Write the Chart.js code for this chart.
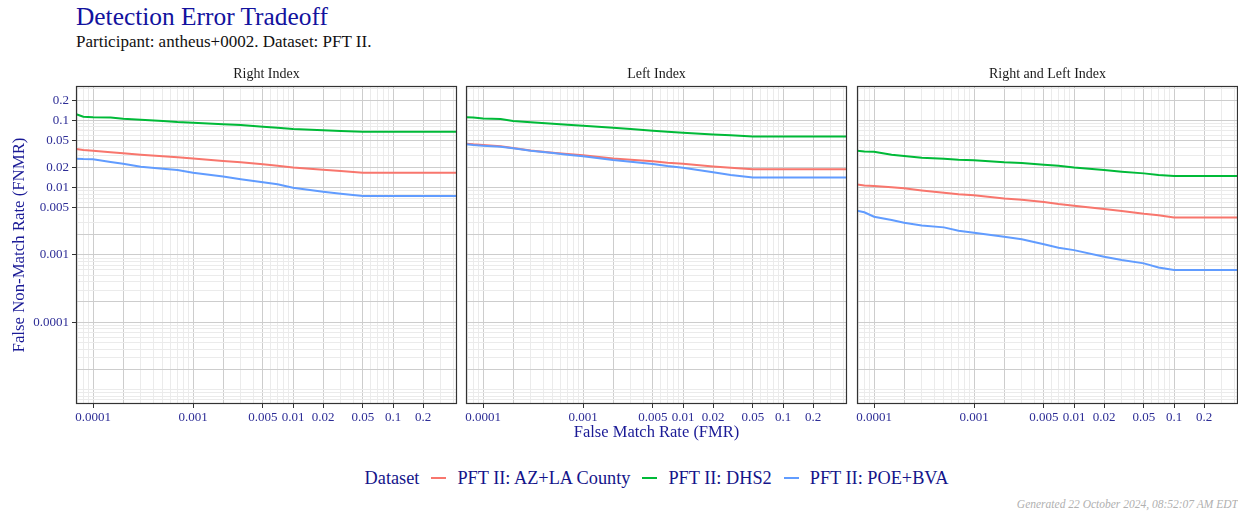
<!DOCTYPE html>
<html>
<head>
<meta charset="utf-8">
<script src="https://cdn.jsdelivr.net/npm/chart.js@4.4.0/dist/chart.umd.min.js"></script>
<style>
  body { margin: 0; background: #fff; font-family: 'Liberation Serif', serif; }
  #wrap { position: relative; width: 1238px; height: 514px; overflow: hidden; }
  .panel { position: absolute; top: 62px; height: 384px; }
  #title { position: absolute; left: 76px; top: 2px; font-size: 25.4px; color: #12129e; white-space: nowrap; }
  #subtitle { position: absolute; left: 76px; top: 32px; font-size: 17px; color: #111; white-space: nowrap; }
  #legend { position: absolute; left: 0; width: 1313px; top: 466px; height: 24px; display: flex; justify-content: center; align-items: center; font-size: 18.3px; color: #14148a; white-space: nowrap; }
  #legend .key { display: inline-block; width: 15px; height: 2px; margin: 0 11px 0 12px; }
  #footer { position: absolute; right: 0; top: 498px; font-size: 11.5px; font-style: italic; color: #b0b0b0; white-space: nowrap; }
</style>
</head>
<body>
<div id="wrap">
  <div id="title">Detection Error Tradeoff</div>
  <div id="subtitle">Participant: antheus+0002. Dataset: PFT II.</div>
  <div class="panel" style="left:0;width:462px"><canvas id="p0"></canvas></div>
  <div class="panel" style="left:462px;width:390px"><canvas id="p1"></canvas></div>
  <div class="panel" style="left:852px;width:386px"><canvas id="p2"></canvas></div>
  <div id="legend"></div>
  <div id="footer">Generated 22 October 2024, 08:52:07 AM EDT</div>
</div>
<script>
// FMR sample points shared by all curves
const fmr = [6.8e-5, 8e-5, 1e-4, 1.5e-4, 2e-4, 3e-4, 5e-4, 7e-4, 1e-3, 2e-3, 3e-3, 5e-3, 7e-3, 0.01, 0.02, 0.03, 0.05, 0.07, 0.1, 0.5];

const panelNames = ['Right Index', 'Left Index', 'Right and Left Index'];
const seriesNames = ['PFT II: AZ+LA County', 'PFT II: DHS2', 'PFT II: POE+BVA'];
const seriesColors = ['#F8766D', '#00BA38', '#619CFF'];

// FNMR
const rightAZ   = [0.0375, 0.0362, 0.0354, 0.0335, 0.0324, 0.0309, 0.0292, 0.0282, 0.0272, 0.0249, 0.0238, 0.0222, 0.0212, 0.0200, 0.0185, 0.0177, 0.0167, 0.0166, 0.0166, 0.0166];
const rightDHS2 = [0.123, 0.113, 0.111, 0.110, 0.106, 0.102, 0.098, 0.0945, 0.0923, 0.0872, 0.0853, 0.0805, 0.0778, 0.0743, 0.071, 0.0694, 0.0679, 0.0679, 0.0679, 0.0679];
const rightPOE  = [0.0269, 0.0266, 0.0264, 0.0241, 0.0227, 0.0205, 0.0191, 0.0183, 0.0167, 0.0146, 0.0133, 0.0120, 0.0112, 0.0100, 0.0087, 0.0081, 0.0075, 0.0075, 0.0075, 0.0075];

const leftAZ    = [0.045, 0.044, 0.043, 0.0411, 0.0388, 0.0358, 0.0331, 0.0316, 0.0302, 0.0272, 0.026, 0.0246, 0.0235, 0.0227, 0.0207, 0.0198, 0.0187, 0.0187, 0.0187, 0.0187];
const leftDHS2  = [0.111, 0.110, 0.107, 0.105, 0.098, 0.0934, 0.0892, 0.0862, 0.0833, 0.0778, 0.0743, 0.0702, 0.068, 0.0656, 0.0619, 0.060, 0.0578, 0.0578, 0.0578, 0.0578];
const leftPOE   = [0.044, 0.043, 0.042, 0.0406, 0.0384, 0.0354, 0.0327, 0.0309, 0.0292, 0.0257, 0.0243, 0.0225, 0.021, 0.0198, 0.0169, 0.0154, 0.0141, 0.0141, 0.0141, 0.0141];

const bothAZ    = [0.0111, 0.0108, 0.0106, 0.0101, 0.0098, 0.0091, 0.0084, 0.0080, 0.0077, 0.0069, 0.0066, 0.0061, 0.0057, 0.0054, 0.0048, 0.0045, 0.0041, 0.0039, 0.0036, 0.0036];
const bothDHS2  = [0.0354, 0.0346, 0.0342, 0.0309, 0.0295, 0.0279, 0.0269, 0.026, 0.0255, 0.0238, 0.0232, 0.0219, 0.0212, 0.020, 0.0183, 0.0173, 0.0163, 0.0154, 0.0149, 0.0149];
const bothPOE   = [0.00455, 0.0043, 0.0037, 0.0033, 0.0030, 0.00275, 0.00257, 0.00229, 0.00214, 0.00187, 0.00171, 0.00144, 0.00128, 0.00118, 0.00094, 0.00084, 0.00075, 0.00065, 0.0006, 0.0006];

const panelSeries = [[rightAZ, rightDHS2, rightPOE], [leftAZ, leftDHS2, leftPOE], [bothAZ, bothDHS2, bothPOE]];

const xTickLabels = [0.0001, 0.001, 0.005, 0.01, 0.02, 0.05, 0.1, 0.2];
const yTickLabels = [0.0001, 0.001, 0.005, 0.01, 0.02, 0.05, 0.1, 0.2];

const X_MIN = 6.76e-5, X_MAX = 0.4365;
const Y_MIN = 6.1e-6, Y_MAX = 0.324;

const serif = 'Liberation Serif';
const tickBlue = '#2c2c96';
const titleBlue = '#1a1a96';

function logGrid(lo, hi) {
  const out = [];
  for (let d = -7; d <= 0; d++) {
    for (let m = 1; m <= 9; m++) {
      const v = Number((m * Math.pow(10, d)).toPrecision(2));
      if (v >= lo && v <= hi) out.push(v);
    }
  }
  return out;
}
const xGrid = logGrid(X_MIN, X_MAX);
const yGrid = logGrid(Y_MIN, Y_MAX);

const near = (a, b) => Math.abs(a / b - 1) < 1e-6;
const isLabel = (v, list) => list.some(l => near(v, l));
const isMajor = (v, list) => isLabel(v, list) || near(v / Math.pow(10, Math.floor(Math.log10(v) + 1e-9)), 2);

const panelFrame = {
  id: 'panelFrame',
  afterDatasetsDraw(chart, args, opts) {
    const { ctx, chartArea: a } = chart;
    ctx.save();
    ctx.strokeStyle = '#333333';
    ctx.lineWidth = 1.2;
    ctx.strokeRect(a.left + 0.5, a.top + 0.5, a.right - a.left - 1, a.bottom - a.top - 1);
    ctx.fillStyle = '#1a1a1a';
    ctx.font = '14px ' + serif;
    ctx.textAlign = 'center';
    ctx.textBaseline = 'middle';
    ctx.fillText(opts.name, (a.left + a.right) / 2, a.top - 12);
    ctx.restore();
  }
};

const padL = [0, 4, 5];
const padR = [5, 5, 0];

function makeChart(i) {
  const first = i === 0;
  return new Chart(document.getElementById('p' + i), {
    type: 'line',
    data: {
      datasets: panelSeries[i].map((vals, k) => ({
        label: seriesNames[k],
        data: fmr.map((x, j) => ({ x: x, y: vals[j] })),
        borderColor: seriesColors[k],
        borderWidth: 2,
        pointRadius: 0,
        tension: 0,
        fill: false,
        order: 2 - k
      }))
    },
    options: {
      responsive: true,
      maintainAspectRatio: false,
      animation: false,
      layout: { padding: { left: padL[i], right: padR[i], top: 24, bottom: 0 } },
      plugins: {
        legend: { display: false },
        tooltip: { enabled: false },
        panelFrame: { name: panelNames[i] }
      },
      scales: {
        x: {
          type: 'logarithmic',
          min: X_MIN, max: X_MAX,
          afterBuildTicks: s => { s.ticks = xGrid.map(v => ({ value: v })); },
          afterFit: s => { s.height = 42; },
          ticks: {
            autoSkip: false, maxRotation: 0, minRotation: 0, padding: 2,
            color: tickBlue, font: { family: serif, size: 13 },
            callback: v => isLabel(v, xTickLabels) ? String(v) : ''
          },
          grid: {
            lineWidth: 1,
            color: c => (c.tick && isMajor(c.tick.value, xTickLabels)) ? '#cdcdcd' : '#ebebeb',
            tickLength: 4,
            tickColor: c => (c.tick && isLabel(c.tick.value, xTickLabels)) ? '#333333' : 'rgba(0,0,0,0)'
          },
          border: { display: false },
          title: {
            display: i === 1, text: 'False Match Rate (FMR)', color: titleBlue,
            font: { family: serif, size: 16.5 }, padding: { top: 0, bottom: 3 }
          }
        },
        y: {
          type: 'logarithmic',
          min: Y_MIN, max: Y_MAX,
          afterBuildTicks: s => { s.ticks = yGrid.map(v => ({ value: v })); },
          afterFit: s => { s.width = first ? 76 : 0; },
          ticks: {
            display: first, autoSkip: false, padding: 3,
            color: tickBlue, font: { family: serif, size: 13 },
            callback: v => isLabel(v, yTickLabels) ? String(v) : ''
          },
          grid: {
            lineWidth: 1,
            color: c => (c.tick && isMajor(c.tick.value, yTickLabels)) ? '#cdcdcd' : '#ebebeb',
            drawTicks: first,
            tickLength: 4,
            tickColor: c => (c.tick && isLabel(c.tick.value, yTickLabels)) ? '#333333' : 'rgba(0,0,0,0)'
          },
          border: { display: false },
          title: {
            display: first, text: 'False Non-Match Rate (FNMR)', color: titleBlue,
            font: { family: serif, size: 16.8 }, padding: { top: 10, bottom: 0 }
          }
        }
      }
    },
    plugins: [panelFrame]
  });
}

[0, 1, 2].forEach(makeChart);

// legend
const legend = document.getElementById('legend');
legend.appendChild(document.createTextNode('Dataset'));
seriesNames.forEach((name, k) => {
  const key = document.createElement('span');
  key.className = 'key';
  key.style.background = seriesColors[k];
  legend.appendChild(key);
  legend.appendChild(document.createTextNode(name));
});
</script>
</body>
</html>
